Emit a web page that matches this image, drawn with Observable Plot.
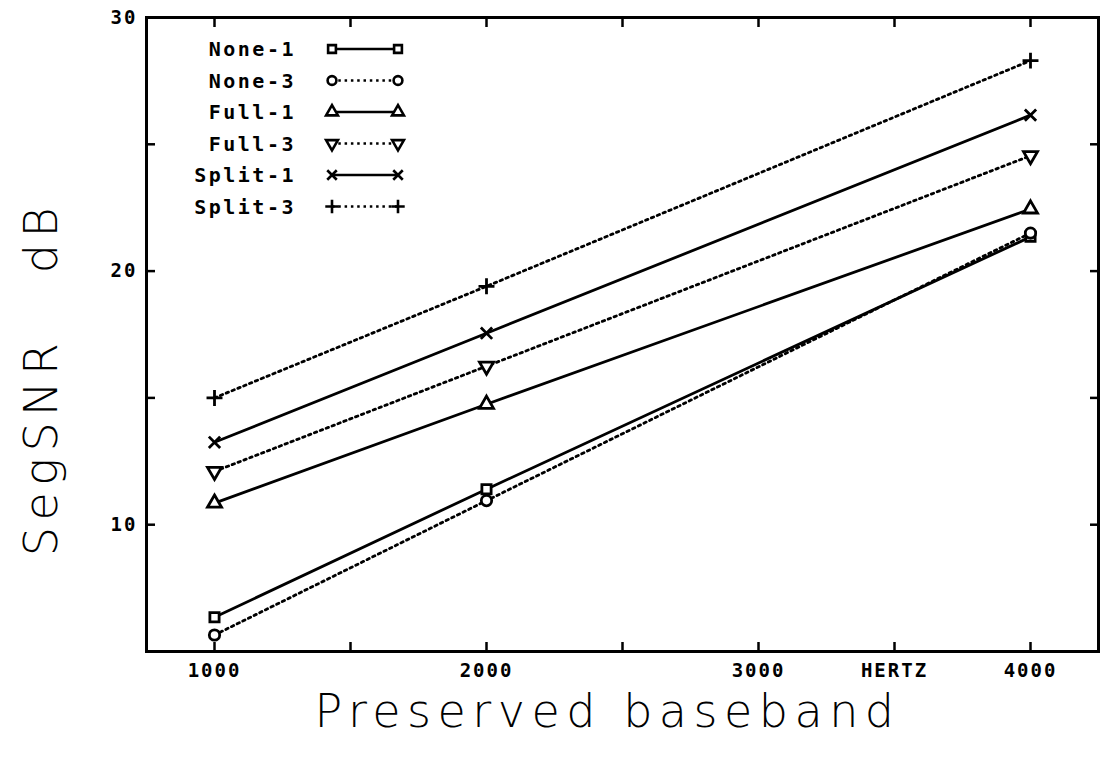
<!DOCTYPE html>
<html><head><meta charset="utf-8">
<script src="https://cdn.jsdelivr.net/npm/d3@7"></script>
<script src="https://cdn.jsdelivr.net/npm/@observablehq/plot@0.6"></script>
<style>
body{margin:0;background:#fff;}
#chart svg .tlab text{letter-spacing:2px;}
#chart svg .leg text{letter-spacing:2.5px;}
#chart svg .ttl text{letter-spacing:6.5px;white-space:pre;}
</style></head><body><div id="chart"></div>
<script>
// ---- data ----
const baseband = [1000, 2000, 4000];
const seriesNames = ["None-1", "None-3", "Full-1", "Full-3", "Split-1", "Split-3"];
const none1 = [6.35, 11.4, 21.35];
const none3 = [5.65, 10.95, 21.5];
const full1 = [10.85, 14.75, 22.45];
const full3 = [12.1, 16.25, 24.55];
const split1 = [13.25, 17.55, 26.15];
const split3 = [15.0, 19.4, 28.3];
const xTicks = [1000, 1500, 2000, 2500, 3000, 3500, 4000];
const xTickLabels = ["1000", "", "2000", "", "3000", "HERTZ", "4000"];
const yTicks = [5, 10, 15, 20, 25, 30];
const yTickLabels = ["", "10", "", "20", "", "30"];
const xTitle = "Preserved baseband";
const yTitle = "SegSNR\u00a0\u00a0\u00a0dB";

const seriesValues = [none1, none3, full1, full3, split1, split3];

// custom downward triangle
const sqrt3 = Math.sqrt(3);
const triangleDown = {
  draw(context, size) {
    const y = -Math.sqrt(size / (sqrt3 * 3));
    context.moveTo(0, -y * 2);
    context.lineTo(-sqrt3 * y, y);
    context.lineTo(sqrt3 * y, y);
    context.closePath();
  }
};
const symbols = ["square", "circle", "triangle", triangleDown, "times", "plus"];
const d3symbols = [d3.symbolSquare, d3.symbolCircle, d3.symbolTriangle, triangleDown, d3.symbolTimes, d3.symbolPlus];
const dotted = [false, true, false, true, false, true];

const rows = [];
seriesNames.forEach((s, k) => baseband.forEach((b, i) => rows.push({series: s, k, x: b, y: seriesValues[k][i]})));

const xLabelMap = new Map(xTicks.map((t, i) => [t, xTickLabels[i]]));
const yLabelMap = new Map(yTicks.map((t, i) => [t, yTickLabels[i]]));
const xLabeled = xTicks.filter(t => xLabelMap.get(t) !== "");
const yLabeled = yTicks.filter(t => yLabelMap.get(t) !== "");

const tickFont = "DejaVu Sans Mono";
const titleFont = "DejaVu Sans";

const marks = [
  Plot.frame({strokeWidth: 3}),
  // inward ticks
  Plot.axisX(xTicks, {anchor: "bottom", tickSize: -9, tickFormat: () => "", strokeWidth: 2.5, label: null, className: "tonly"}),
  Plot.axisX(xTicks, {anchor: "top", tickSize: -9, tickFormat: () => "", strokeWidth: 2.5, label: null, className: "tonly"}),
  Plot.axisY(yTicks, {anchor: "left", tickSize: -9, tickFormat: () => "", strokeWidth: 2.5, label: null, className: "tonly"}),
  Plot.axisY(yTicks, {anchor: "right", tickSize: -9, tickFormat: () => "", strokeWidth: 2.5, label: null, className: "tonly"}),
  // tick labels
  Plot.axisX(xLabeled, {anchor: "bottom", tickSize: 0, tickPadding: 12, tickFormat: d => xLabelMap.get(d),
    fontSize: 19, fontWeight: "bold", fontFamily: tickFont, label: null, className: "tlab"}),
  Plot.axisY(yLabeled, {anchor: "left", tickSize: 0, tickPadding: 9, tickFormat: d => yLabelMap.get(d),
    fontSize: 19, fontWeight: "bold", fontFamily: tickFont, label: null, className: "tlab"}),
  // series lines
  Plot.line(rows.filter(d => !dotted[d.k]), {x: "x", y: "y", z: "series", stroke: "black", strokeWidth: 2.8}),
  Plot.line(rows.filter(d => dotted[d.k]), {x: "x", y: "y", z: "series", stroke: "black", strokeWidth: 2.8,
    strokeDasharray: "2.5,3.8"}),
  // markers
  ...seriesNames.map((s, k) => Plot.dot(rows.filter(d => d.k === k), {x: "x", y: "y", symbol: () => symbols[k],
    r: 5.2, stroke: "black", strokeWidth: 2.8, fill: "white"})),
  // axis titles
  Plot.text([xTitle], {frameAnchor: "bottom", dx: -15, dy: 75, fontSize: 46, fontFamily: titleFont,
    fontWeight: 200, fill: "black", className: "ttl"}),
  Plot.text([yTitle], {frameAnchor: "left", dx: -104, dy: 44, rotate: -90, textAnchor: "middle", fontSize: 46,
    fontFamily: titleFont, fontWeight: 200, fill: "black", className: "ttl"})
];

const chart = Plot.plot({
  width: 1103,
  height: 759,
  marginLeft: 146,
  marginRight: 5,
  marginTop: 17,
  marginBottom: 108,
  x: {domain: [750, 4250], axis: null},
  y: {domain: [5, 30], axis: null},
  symbol: {type: "identity"},
  style: {background: "white", overflow: "visible"},
  marks
});
document.getElementById("chart").appendChild(chart);

const svg = d3.select(chart);
// drop the empty texts of the tick-only axes
svg.selectAll(".tonly text").remove();

// legend (inside top-left of frame)
const leg = svg.append("g").attr("class", "leg");
const lx = 146, ly = 17;
seriesNames.forEach((s, k) => {
  const yy = ly + 32 + k * 31.5;
  leg.append("text").attr("x", lx + 150).attr("y", yy).attr("dy", "0.35em")
    .attr("text-anchor", "end").attr("font-family", tickFont).attr("font-size", 20)
    .attr("font-weight", "bold").text(s);
  leg.append("line").attr("x1", lx + 186).attr("x2", lx + 252).attr("y1", yy).attr("y2", yy)
    .attr("stroke", "black").attr("stroke-width", 2.6)
    .attr("stroke-dasharray", dotted[k] ? "2.5,3.8" : null);
  [lx + 186, lx + 252].forEach(px => {
    leg.append("path").attr("transform", `translate(${px},${yy})`)
      .attr("d", d3.symbol(d3symbols[k], 4.4 * 4.4 * Math.PI)())
      .attr("stroke", "black").attr("stroke-width", 2.6).attr("fill", "white");
  });
});
</script></body></html>
